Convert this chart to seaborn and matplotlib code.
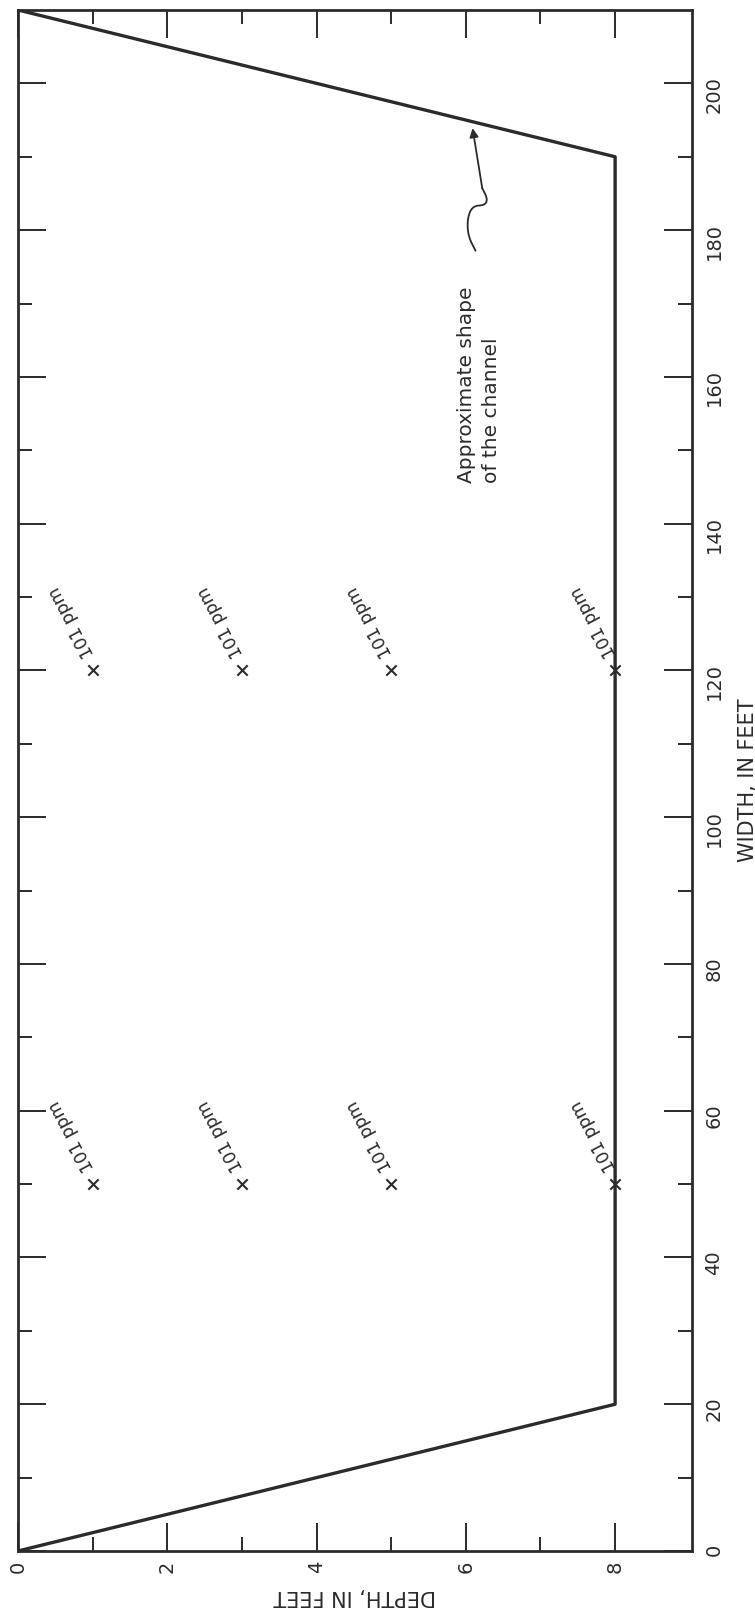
import numpy as np
import pandas as pd
import seaborn as sns
import matplotlib.pyplot as plt

# the figure is a channel cross section printed on its side:
# depth runs left to right, width runs bottom to top
channel_depth = [0, 8, 8, 0]
channel_width = [0, 20, 190, 210]

# sampling points, all read 101 ppm
sample_depth = [1, 3, 5, 8, 1, 3, 5, 8]
sample_width = [50, 50, 50, 50, 120, 120, 120, 120]
sample_label = ["101 ppm"] * 8

depth_ticks = [0, 2, 4, 6, 8]
depth_minor = [1, 3, 5, 7]
width_ticks = [0, 20, 40, 60, 80, 100, 120, 140, 160, 180, 200]
width_minor = [10, 30, 50, 70, 90, 110, 130, 150, 170, 190]

note_text = "Approximate shape\nof the channel"
note_xy = (6.17, 145.5)
# hand drawn leader, from the note up to the arrow head
leader_depth = [6.13, 6.03, 6.02, 6.09, 6.26, 6.29, 6.22]
leader_width = [177.2, 179.2, 181.6, 183.3, 183.4, 184.3, 185.7]
arrow_tip = (6.09, 193.9)

ink = '#2b2b2b'


def chaikin(xs, ys, n=3):
    """smooth a polyline a bit so the leader looks hand drawn"""
    pts = np.column_stack([xs, ys])
    for _ in range(n):
        q = 0.75 * pts[:-1] + 0.25 * pts[1:]
        r = 0.25 * pts[:-1] + 0.75 * pts[1:]
        mid = np.empty((2 * len(q), 2))
        mid[0::2] = q
        mid[1::2] = r
        pts = np.vstack([pts[:1], mid, pts[-1:]])
    return pts[:, 0], pts[:, 1]


sns.set_style('ticks')
plt.rcParams['font.family'] = ['DejaVu Sans']

fig = plt.figure(figsize=(7.55, 16.12), dpi=100)
ax = fig.add_axes([18 / 755, 61 / 1612, 674 / 755, 1541 / 1612])

chan = pd.DataFrame({'depth': channel_depth, 'width': channel_width})
sns.lineplot(data=chan, x='depth', y='width', sort=False, estimator=None,
             color=ink, lw=2.4, ax=ax)

pts = pd.DataFrame({'depth': sample_depth, 'width': sample_width})
sns.scatterplot(data=pts, x='depth', y='width', marker='x', s=55,
                color=ink, linewidth=1.5, ax=ax, zorder=3)
for d, w, lab in zip(sample_depth, sample_width, sample_label):
    ax.annotate(lab, (d, w), xytext=(-2, 10), textcoords='offset points',
                rotation=118, rotation_mode='anchor', ha='left', va='center',
                fontsize=12.5, color=ink)

ax.text(note_xy[0], note_xy[1], note_text, rotation=90, rotation_mode='anchor',
        ha='left', va='center', multialignment='left', fontsize=14.5,
        linespacing=1.4, color=ink)
lx, ly = chaikin(leader_depth, leader_width)
ax.plot(lx, ly, color=ink, lw=1.3)
ax.annotate('', xy=arrow_tip, xytext=(leader_depth[-1], leader_width[-1]),
            arrowprops=dict(arrowstyle='-|>', color=ink, lw=1.3,
                            mutation_scale=13, shrinkA=0, shrinkB=0))

ax.set_xlim(0, 9.03)
ax.set_ylim(0, 210)
ax.set_xticks(depth_ticks)
ax.set_xticks(depth_minor, minor=True)
ax.set_yticks(width_ticks)
ax.set_yticks(width_minor, minor=True)
ax.tick_params(which='both', direction='in', top=True, bottom=True, left=True,
               right=True, labelleft=False, labelright=True, labelbottom=True,
               width=1.4, color=ink, labelcolor=ink)
ax.tick_params(which='major', length=20)
ax.tick_params(which='minor', length=10)
ax.tick_params(axis='x', labelrotation=90, pad=7, labelsize=14)
ax.tick_params(axis='y', labelrotation=90, pad=9, labelsize=14)
for s in ax.spines.values():
    s.set_linewidth(2)
    s.set_color(ink)

ax.set_xlabel('DEPTH, IN FEET', rotation=180, fontsize=15, color=ink, va='center')
ax.xaxis.set_label_coords(0.5, -0.029)
ax.yaxis.set_label_position('right')
ax.set_ylabel('WIDTH, IN FEET', rotation=90, fontsize=15, color=ink,
              va='center', ha='center')
ax.yaxis.set_label_coords(1.083, 0.5)

fig.savefig('out.png', dpi=100, facecolor='white')
